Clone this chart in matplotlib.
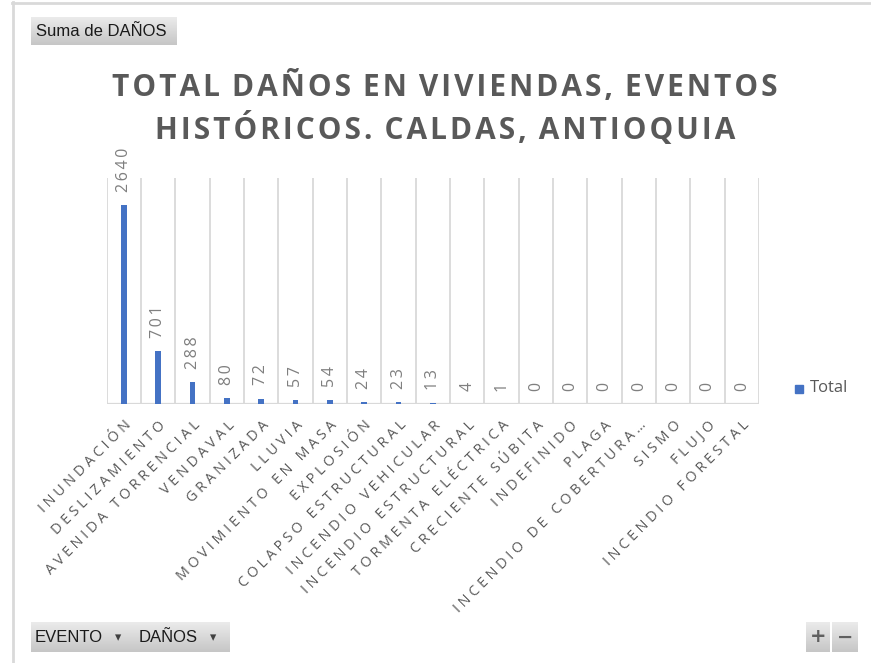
import numpy as np
import matplotlib
matplotlib.use("Agg")
import matplotlib.pyplot as plt
from matplotlib.patches import Rectangle
from matplotlib.lines import Line2D

W, H = 871, 663

eventos = ["INUNDACIÓN", "DESLIZAMIENTO", "AVENIDA TORRENCIAL", "VENDAVAL",
           "GRANIZADA", "LLUVIA", "MOVIMIENTO EN MASA", "EXPLOSIÓN",
           "COLAPSO ESTRUCTURAL", "INCENDIO VEHICULAR", "INCENDIO ESTRUCTURAL",
           "TORMENTA ELÉCTRICA", "CRECIENTE SÚBITA", "INDEFINIDO", "PLAGA",
           "INCENDIO DE COBERTURA…", "SISMO", "FLUJO", "INCENDIO FORESTAL"]
danos = [2640, 701, 288, 80, 72, 57, 54, 24, 23, 13, 4, 1, 0, 0, 0, 0, 0, 0, 0]
titulo = ["TOTAL DAÑOS EN VIVIENDAS, EVENTOS", "HISTÓRICOS. CALDAS, ANTIOQUIA"]

BLUE = "#4472C4"
GRID = "#d9d9d9"
DARK = "#595959"
FAM = ["Open Sans", "DejaVu Sans"]


def spaced(s, sp="\u2009"):
    # imitar el espaciado de letras de Excel
    return sp.join(s)


def fx(x):
    return x / W


def fy(y):
    return 1 - y / H


def button(fig, x0, y0, w, h, text, arrow=False, size=12, color="#1a1a1a"):
    bax = fig.add_axes([fx(x0), fy(y0 + h), w / W, h / H])
    grad = np.linspace(0, 1, 50).reshape(-1, 1)
    bax.imshow(grad, aspect="auto", cmap=matplotlib.colors.LinearSegmentedColormap.from_list(
        "b", ["#ebebeb", "#c6c6c6"]), extent=[0, 1, 0, 1])
    bax.set_xlim(0, 1)
    bax.set_ylim(0, 1)
    bax.axis("off")
    fam = ["Liberation Sans", "DejaVu Sans"]
    if arrow:
        bax.text(4 / w, 0.48, text, ha="left", va="center", fontsize=size,
                 family=fam, color=color)
        bax.text(1 - 16 / w, 0.48, "▾", ha="center", va="center", fontsize=9,
                 family=["DejaVu Sans"], color="#404040")
    elif len(text) > 1:
        bax.text(5 / w, 0.48, text, ha="left", va="center", fontsize=size,
                 family=fam, color=color)
    else:
        bax.text(0.5, 0.5, text, ha="center", va="center", fontsize=size,
                 fontweight="bold", family=["DejaVu Sans"], color=color)


fig = plt.figure(figsize=(W / 100, H / 100), dpi=100)

# borde de la zona del grafico
fig.add_artist(Line2D([fx(12), 1], [fy(2.5), fy(2.5)], color=GRID, lw=2))
fig.add_artist(Line2D([fx(12.5), fx(12.5)], [0, fy(2)], color=GRID, lw=2))

ax = fig.add_axes([fx(106.7), fy(404), (759 - 106.7) / W, (404 - 178) / H])
x = np.arange(len(eventos))
ax.bar(x, danos, width=0.17, color=BLUE, zorder=3)
ax.set_xlim(-0.5, len(eventos) - 0.5)
ax.set_ylim(0, 3000)
for b in np.arange(-0.5, len(eventos), 1.0):
    ax.axvline(b, color=GRID, lw=1.3, zorder=1)
for s in ax.spines.values():
    s.set_visible(False)
ax.axhline(0, color=GRID, lw=1.6, zorder=2)
ax.set_yticks([])
ax.set_xticks(x)
ax.set_xticklabels([spaced(e, "\u2009\u200a") for e in eventos], rotation=45,
                   ha="right", va="top", rotation_mode="anchor", fontsize=10.3,
                   color=DARK, family=FAM)
ax.tick_params(axis="x", length=0, pad=10)

for xi, v in zip(x, danos):
    ax.annotate(spaced(str(v)), (xi, v), xytext=(0, 9.5), textcoords="offset points",
                rotation=90, ha="center", va="bottom", fontsize=11.5,
                color="#7f7f7f", family=FAM)

# titulo
for i, linea in enumerate(titulo):
    txt = "\u2009\u2009".join(spaced(w, "\u200a") for w in linea.split(" "))
    fig.text(fx(445), fy(87 + 42 * i), txt, ha="center", va="center",
             fontsize=21.5, fontweight="bold", color=DARK, family=FAM)

# leyenda
fig.add_artist(Rectangle((fx(795), fy(393)), 8 / W, 8 / H, color=BLUE,
                         transform=fig.transFigure))
fig.text(fx(810), fy(388), "Total", ha="left", va="center", fontsize=12,
         color=DARK, family=FAM)

# botones de la tabla dinamica
button(fig, 31, 17, 145, 28, "Suma de DAÑOS")
button(fig, 31, 622, 103, 30, "EVENTO", arrow=True)
button(fig, 135, 622, 94, 30, "DAÑOS", arrow=True)
button(fig, 806, 622, 24, 30, "+", size=14, color="#606060")
button(fig, 832, 622, 26, 30, "−", size=14, color="#606060")

fig.savefig("out.png", dpi=100)
